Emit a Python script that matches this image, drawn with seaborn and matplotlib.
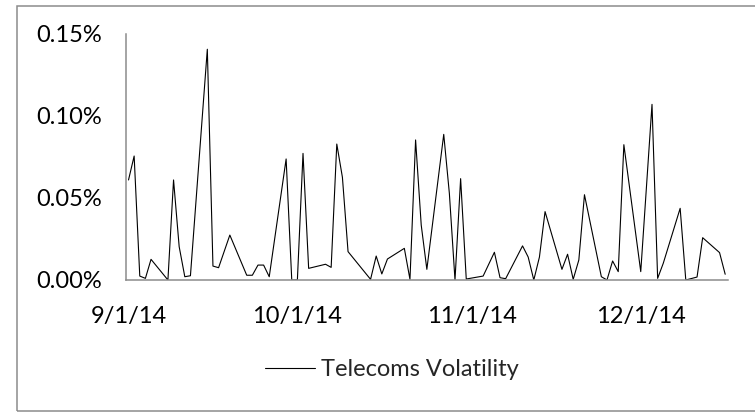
import pandas as pd
import seaborn as sns
import matplotlib
matplotlib.use("Agg")
import matplotlib.pyplot as plt
import matplotlib.dates as mdates
from matplotlib.patches import Rectangle
from matplotlib.ticker import FuncFormatter, MultipleLocator

# trading days (2014) and daily volatility in percent
dates = [
    "2014-09-01", "2014-09-02", "2014-09-03", "2014-09-04", "2014-09-05",
    "2014-09-08", "2014-09-09", "2014-09-10", "2014-09-11", "2014-09-12",
    "2014-09-15", "2014-09-16", "2014-09-17", "2014-09-19",
    "2014-09-22", "2014-09-23", "2014-09-24", "2014-09-25", "2014-09-26",
    "2014-09-29", "2014-09-30", "2014-10-01", "2014-10-02", "2014-10-03",
    "2014-10-06", "2014-10-07", "2014-10-08", "2014-10-09", "2014-10-10",
    "2014-10-14", "2014-10-15", "2014-10-16", "2014-10-17",
    "2014-10-20", "2014-10-21", "2014-10-22", "2014-10-23", "2014-10-24",
    "2014-10-27", "2014-10-28", "2014-10-29", "2014-10-30", "2014-10-31",
    "2014-11-03", "2014-11-05", "2014-11-06", "2014-11-07",
    "2014-11-10", "2014-11-11", "2014-11-12", "2014-11-13", "2014-11-14",
    "2014-11-17", "2014-11-18", "2014-11-19", "2014-11-20", "2014-11-21",
    "2014-11-24", "2014-11-25", "2014-11-26", "2014-11-27", "2014-11-28",
    "2014-12-01", "2014-12-03", "2014-12-04", "2014-12-05",
    "2014-12-08", "2014-12-09", "2014-12-11", "2014-12-12",
    "2014-12-15", "2014-12-16",
]
volatility = [
    0.0610, 0.0756, 0.0024, 0.0010, 0.0126,
    0.0000, 0.0610, 0.0203, 0.0020, 0.0026,
    0.1407, 0.0085, 0.0075, 0.0274,
    0.0029, 0.0029, 0.0091, 0.0091, 0.0020,
    0.0738, 0.0000, 0.0000, 0.0772, 0.0071,
    0.0096, 0.0077, 0.0829, 0.0626, 0.0173,
    0.0004, 0.0146, 0.0037, 0.0128,
    0.0193, 0.0004, 0.0854, 0.0335, 0.0065,
    0.0888, 0.0528, 0.0000, 0.0618, 0.0006,
    0.0024, 0.0169, 0.0014, 0.0008,
    0.0208, 0.0140, 0.0000, 0.0140, 0.0417,
    0.0065, 0.0157, 0.0004, 0.0122, 0.0520,
    0.0020, 0.0000, 0.0116, 0.0051, 0.0825,
    0.0051, 0.1071, 0.0010, 0.0102,
    0.0437, 0.0000, 0.0018, 0.0258,
    0.0167, 0.0035,
]
series_name = "Telecoms Volatility"

df = pd.DataFrame({"date": pd.to_datetime(dates), "vol": volatility})

sns.set_style("white")
plt.rcParams["font.family"] = ["Lato", "DejaVu Sans"]

fig = plt.figure(figsize=(7.55, 4.12), dpi=100)
ax = fig.add_axes([125.7 / 755, 132 / 412, (728 - 125.7) / 755, 246 / 412])

sns.lineplot(data=df, x="date", y="vol", ax=ax, color="black",
             linewidth=0.8, label=series_name, legend=False)

ax.set_ylim(0, 0.15)
ax.yaxis.set_major_locator(MultipleLocator(0.05))
ax.yaxis.set_major_formatter(FuncFormatter(lambda v, p: f"{v:.2f}%"))

half = pd.Timedelta(hours=12)
ax.set_xlim(df["date"].iloc[0] - half, df["date"].iloc[-1] + half)
ax.xaxis.set_major_locator(mdates.MonthLocator())
ax.xaxis.set_major_formatter(FuncFormatter(
    lambda v, p: (lambda d: f"{d.month}/{d.day}/{d:%y}")(mdates.num2date(v))))

ax.set_xlabel("")
ax.set_ylabel("")
ax.tick_params(axis="both", length=0, labelsize=17, colors="black")
ax.tick_params(axis="x", pad=19)
ax.tick_params(axis="y", pad=17)

for side in ["top", "right"]:
    ax.spines[side].set_visible(False)
for side in ["left", "bottom"]:
    ax.spines[side].set_color("#8c8c8c")
    ax.spines[side].set_linewidth(1.1)

handles, labels = ax.get_legend_handles_labels()
fig.legend(handles, labels, loc="center", bbox_to_anchor=(392 / 755, 42 / 412),
           frameon=False, fontsize=17, handlelength=2.1, handletextpad=0.25)

# outer chart border
fig.patches.append(Rectangle((17 / 755, 1.5 / 412), 1.0, 405 / 412,
                             transform=fig.transFigure, fill=False,
                             edgecolor="#8c8c8c", linewidth=1.1))

fig.savefig("out.png", dpi=100)
